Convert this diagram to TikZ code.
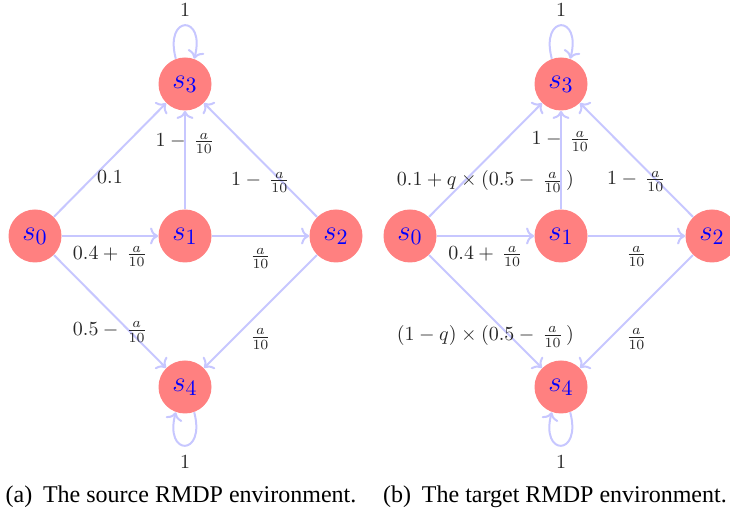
\documentclass[tikz,border=0pt]{standalone}
\usepackage{fontspec}
\newfontfamily\capfont{Liberation Serif}
\usetikzlibrary{arrows.meta}
\begin{document}
\begin{tikzpicture}[x=0.5pt,y=0.5pt,
  st/.style={circle, fill=red!50, draw=none, minimum size=26.5pt, inner sep=0pt,
             font=\fontsize{15}{18}\selectfont, text=blue},
  e/.style={draw=blue!22, line width=1pt, -{To[length=4pt,width=8.5pt]}},
  lbl/.style={inner sep=0pt, anchor=north, font=\fontsize{10}{12}\selectfont, text=black!85},
  one/.style={inner sep=0pt, font=\fontsize{10}{12}\selectfont, text=black!85},
  captxt/.style={inner sep=0pt, font=\capfont\fontsize{12}{14}\selectfont}]
\useasboundingbox (0,0) rectangle (730,514);

% ---------- (a) source ----------
\node[st] (s0) at (35,278) {$s_0$};
\node[st] (s1) at (185,278) {$s_1$};
\node[st] (s2) at (336,278) {$s_2$};
\node[st] (s3) at (185,430) {$s_3$};
\node[st] (s4) at (185,127) {$s_4$};

\draw[e] (s0) -- node[lbl, yshift=-5pt] (a03) {$0.1$} (s3);
\draw[e] (s0) -- node[lbl, yshift=-4.5pt] (a01) {$0.4+\,\frac{a}{10}$} (s1);
\draw[e] (s1) -- node[lbl, yshift=-5.5pt] (a12) {$\frac{a}{10}$} (s2);
\draw[e] (s1) -- node[lbl, yshift=14pt] (a13) {$1-\,\frac{a}{10}$} (s3);
\draw[e] (s2) -- node[lbl, yshift=-5.5pt] (a23) {$1-\,\frac{a}{10}$} (s3);
\draw[e] (s0) -- node[lbl, yshift=-4.5pt] (a04) {$0.5-\,\frac{a}{10}$} (s4);
\draw[e] (s2) -- node[lbl, yshift=-8pt] (a24) {$\frac{a}{10}$} (s4);

\draw[e] (s3.110) .. controls +(105:23pt) and +(75:23pt) .. (s3.70);
\draw[e] (s4.-70) .. controls +(-75:23pt) and +(-105:23pt) .. (s4.-110);
\node[one] (a33) at (185,504) {$1$};
\node[one] (a44) at (185,52) {$1$};

\node[captxt] (capa) at (181,17) {(a)\hspace{0.45em}The source RMDP environment.};

% ---------- (b) target ----------
\node[st] (r0) at (410,278) {$s_0$};
\node[st] (r1) at (561,278) {$s_1$};
\node[st] (r2) at (712,278) {$s_2$};
\node[st] (r3) at (561,430) {$s_3$};
\node[st] (r4) at (561,127) {$s_4$};

\draw[e] (r0) -- node[lbl, yshift=-5pt] (b03) {$0.1+q\times(0.5-\,\frac{a}{10}\,)$} (r3);
\draw[e] (r0) -- node[lbl, yshift=-4.5pt] (b01) {$0.4+\,\frac{a}{10}$} (r1);
\draw[e] (r1) -- node[lbl, yshift=-4.5pt] (b12) {$\frac{a}{10}$} (r2);
\draw[e] (r1) -- node[lbl, yshift=15pt] (b13) {$1-\,\frac{a}{10}$} (r3);
\draw[e] (r2) -- node[lbl, yshift=-5pt] (b23) {$1-\,\frac{a}{10}$} (r3);
\draw[e] (r0) -- node[lbl, yshift=-6.5pt] (b04) {$(1-q)\times(0.5-\,\frac{a}{10}\,)$} (r4);
\draw[e] (r2) -- node[lbl, yshift=-8pt] (b24) {$\frac{a}{10}$} (r4);

\draw[e] (r3.110) .. controls +(105:23pt) and +(75:23pt) .. (r3.70);
\draw[e] (r4.-70) .. controls +(-75:23pt) and +(-105:23pt) .. (r4.-110);
\node[one] (b33) at (561,504) {$1$};
\node[one] (b44) at (561,52) {$1$};

\node[captxt] (capb) at (555,17) {(b)\hspace{0.45em}The target RMDP environment.};
\end{tikzpicture}
\end{document}
